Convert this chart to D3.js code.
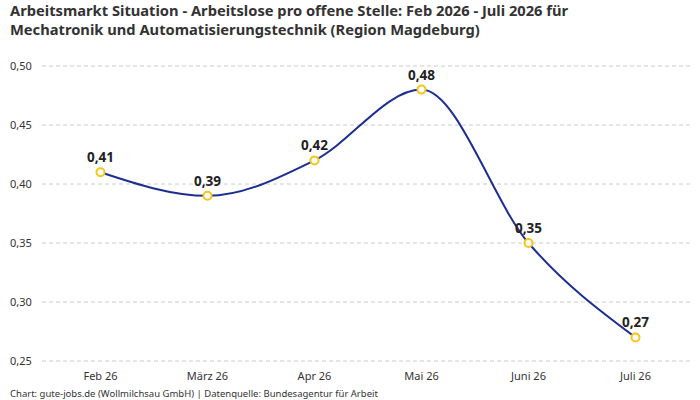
<!DOCTYPE html>
<html><head><meta charset="utf-8">
<script src="https://cdn.jsdelivr.net/npm/d3@7"></script>
<style>body{margin:0;background:#fff;font-family:"Noto Sans",sans-serif}</style>
</head><body>
<svg id="chart" width="700" height="400"></svg>
<script>
// data
var months = ["Feb 26", "März 26", "Apr 26", "Mai 26", "Juni 26", "Juli 26"];
var values = [0.41, 0.39, 0.42, 0.48, 0.35, 0.27];
var yTicks = [0.25, 0.30, 0.35, 0.40, 0.45, 0.50];

var svg = d3.select("#chart");
var fmt = function (v) { return v.toFixed(2).replace(".", ","); };

var x = d3.scalePoint().domain(months).range([47, 689]).padding(0.5);
var y = d3.scaleLinear().domain([0.25, 0.50]).range([361, 66]);

// title
svg.append("text").attr("x", 10).attr("y", 16)
  .style("font-size", "14.7px").style("font-weight", "bold").attr("fill", "#333")
  .text("Arbeitsmarkt Situation - Arbeitslose pro offene Stelle: Feb 2026 - Juli 2026 für");
svg.append("text").attr("x", 10).attr("y", 35)
  .style("font-size", "14.7px").style("font-weight", "bold").attr("fill", "#333")
  .text("Mechatronik und Automatisierungstechnik (Region Magdeburg)");

// grid + y labels
svg.append("g").selectAll("line").data(yTicks).enter().append("line")
  .attr("x1", 42).attr("x2", 690)
  .attr("y1", function (d) { return y(d); }).attr("y2", function (d) { return y(d); })
  .attr("stroke", "#ccc").attr("stroke-dasharray", "4,3");
svg.append("g").selectAll("text").data(yTicks).enter().append("text")
  .attr("x", 10).attr("y", function (d) { return y(d) + 4; })
  .style("font-size", "11px").attr("fill", "#333").text(fmt);

// x labels
svg.append("g").selectAll("text").data(months).enter().append("text")
  .attr("x", function (d) { return x(d); }).attr("y", 380)
  .attr("text-anchor", "middle").style("font-size", "11px").attr("fill", "#333")
  .text(function (d) { return d; });

// line
var line = d3.line()
  .x(function (d, i) { return x(months[i]); })
  .y(function (d) { return y(d); })
  .curve(d3.curveMonotoneX);
svg.append("path").datum(values).attr("d", line)
  .attr("fill", "none").attr("stroke", "#1c2e8f").attr("stroke-width", 2);

// points
svg.append("g").selectAll("circle").data(values).enter().append("circle")
  .attr("cx", function (d, i) { return x(months[i]); })
  .attr("cy", function (d) { return y(d); })
  .attr("r", 4).attr("fill", "#fff").attr("stroke", "#f5c518").attr("stroke-width", 2);

// value labels
svg.append("g").selectAll("text").data(values).enter().append("text")
  .attr("x", function (d, i) { return x(months[i]); })
  .attr("y", function (d) { return y(d) - 10; })
  .attr("text-anchor", "middle").style("font-size", "13.5px").style("font-weight", "bold")
  .attr("fill", "#222").text(fmt);

// footer
svg.append("text").attr("x", 10).attr("y", 397)
  .style("font-size", "9.5px").attr("fill", "#333")
  .text("Chart: gute-jobs.de (Wollmilchsau GmbH) | Datenquelle: Bundesagentur für Arbeit");
</script>
</body></html>
